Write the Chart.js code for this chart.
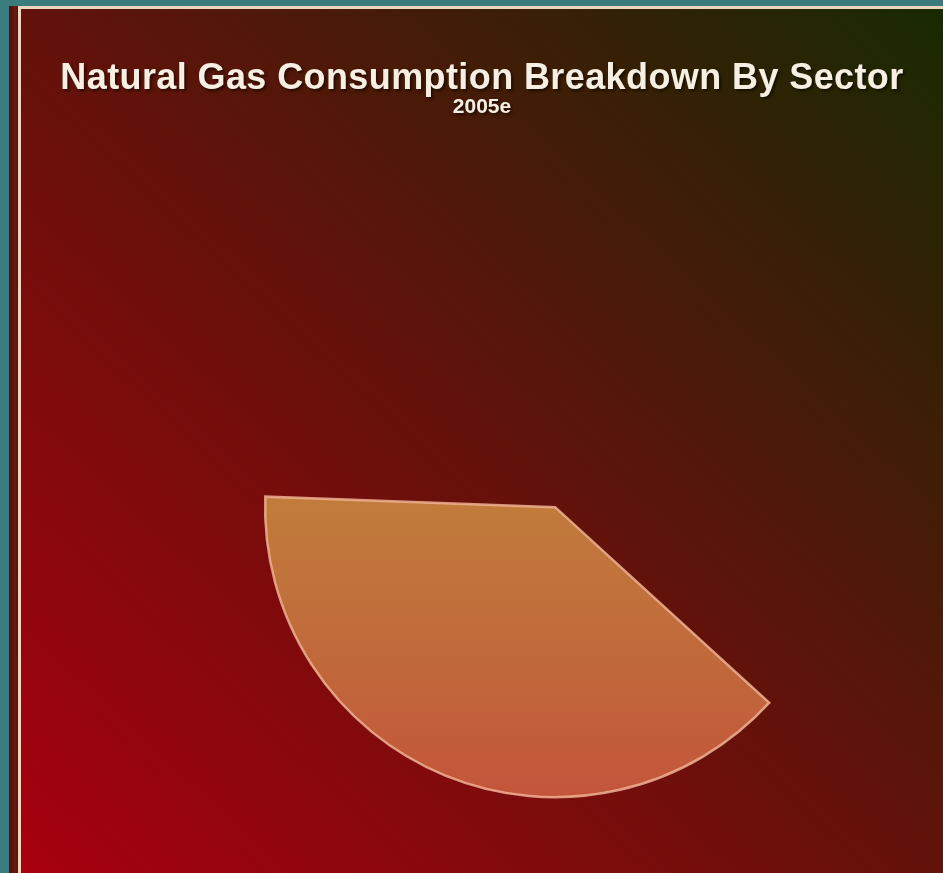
<!DOCTYPE html>
<html>
<head>
<meta charset="utf-8">
<script src="https://cdn.jsdelivr.net/npm/chart.js@4.4.0/dist/chart.umd.min.js"></script>
<style>
  html, body { margin: 0; padding: 0; }
  body {
    width: 943px; height: 873px; overflow: hidden; position: relative;
    background: #3a7b7d;
    font-family: "Liberation Sans", Arial, Helvetica, sans-serif;
  }
  #strip {
    position: absolute; left: 9px; top: 6px; width: 10px; bottom: 0;
    background: linear-gradient(to right, #4a130b, #6a1a10 70%, #3a1008);
  }
  #panel {
    position: absolute; left: 18px; top: 6px; right: 0; bottom: 0;
    border-left: 3px solid #efd6c0; border-top: 3px solid #efd6c0;
    background: linear-gradient(to top right, #a8000f 0%, #62120a 50%, #182a02 100%);
  }
  #chart { position: absolute; left: 0; top: 0; }
  .heading {
    position: absolute; left: 21px; right: 0; text-align: center;
    color: #f7efe2; font-weight: bold;
    text-shadow: 2px 2px 3px rgba(0, 0, 0, 0.55);
  }
  #title { top: 58px; font-size: 36px; line-height: 38px; letter-spacing: 0.4px; }
  #sub { top: 94px; font-size: 21px; line-height: 24px; }
</style>
</head>
<body>
<div id="strip"></div>
<div id="panel"></div>
<canvas id="chart" width="943" height="873"></canvas>
<div id="title" class="heading">Natural Gas Consumption Breakdown By Sector</div>
<div id="sub" class="heading">2005e</div>
<script>
// Sector share shown for 2005e (percent of total consumption)
const sectorLabels = ['Sector share'];
const sharePercent = [38.8];

// Total angle swept by the drawn sectors, from their percentages
const sweepDegrees = sharePercent.reduce((a, b) => a + b, 0) * 3.6;

// Vertical orange shading across the wedge
function wedgeFill(c) {
  const chart = c.chart;
  const area = chart.chartArea;
  const ctrl = chart.getDatasetMeta(0).controller;
  if (!area || !ctrl || !ctrl.outerRadius) return '#c06a3a';
  const cy = (area.top + area.bottom) / 2 + ctrl.offsetY;
  const g = chart.ctx.createLinearGradient(0, cy, 0, cy + ctrl.outerRadius);
  g.addColorStop(0, '#c17b3b');
  g.addColorStop(0.55, '#c0683b');
  g.addColorStop(1, '#c4553b');
  return g;
}

new Chart(document.getElementById('chart'), {
  type: 'pie',
  data: {
    labels: sectorLabels,
    datasets: [{
      data: sharePercent,
      backgroundColor: wedgeFill,
      borderColor: 'rgba(240, 178, 148, 0.85)',
      borderWidth: 2.5,
      borderJoinStyle: 'miter'
    }]
  },
  options: {
    responsive: false,
    animation: false,
    radius: 290,
    rotation: 132.4,
    circumference: sweepDegrees,
    layout: { padding: { left: 100, right: 8.6, top: 430, bottom: 9.2 } },
    plugins: {
      legend: { display: false },
      tooltip: { enabled: false }
    }
  }
});
</script>
</body>
</html>
